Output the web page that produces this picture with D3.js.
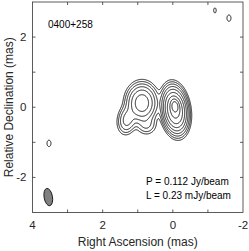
<!DOCTYPE html>
<html>
<head>
<meta charset="utf-8">
<script src="https://cdn.jsdelivr.net/npm/d3@7"></script>
<style>
  body { margin: 0; background: #fff; }
  text { font-family: "Liberation Sans", Arial, sans-serif; fill: #262626; }
</style>
</head>
<body>
<div id="chart"></div>
<script>
// Labels on the map
const sourceName = "0400+258";
const peakText = "P = 0.112 Jy/beam";
const lowText = "L = 0.23 mJy/beam";

// Contour levels (mJy/beam)
const levels = [0.23, 0.46, 0.92, 1.84, 3.68, 7.36, 14.72, 29.44, 58.88];

// Gaussian components: position (mas), peak (mJy/beam), sigmas (mas), PA (deg)
const compRA   = [-0.06, -0.06, 0.88,  1.30,  0.75, -1.20, -1.60,  3.53];
const compDec  = [ 0.03, -0.08, 0.12, -0.35, -0.50,  2.76,  2.54, -1.03];
const compPeak = [70,    42,    12,    2.6,   1.0,   0.245, 0.27,  0.27];
const compMaj  = [0.10,  0.27,  0.24,  0.20,  0.15,  0.20,  0.16,  0.16];
const compMin  = [0.06,  0.145, 0.19,  0.13,  0.15,  0.10,  0.10,  0.10];
const compPA   = [8,     8,     0,     -10,   0,     0,     0,     0];

// Restoring beam (FWHM, mas)
const beamPos = [3.55, -2.56];
const beamSize = [0.5, 0.24];
const beamPA = 10;

// Axes
const xDomain = [4, -2];
const yDomain = [-3, 3];
const xTicks = [4, 2, 0, -2];
const yTicks = [2, 0, -2];
const xMinor = [3, 2, 1, 0, -1];
const yMinor = [-2, -1, 0, 1, 2];

const width = 249;
const height = 251;
const margin = { left: 32.5, right: 6, top: 2, bottom: 38.5 };

const x = d3.scaleLinear().domain(xDomain).range([margin.left, width - margin.right]);
const y = d3.scaleLinear().domain(yDomain).range([height - margin.bottom, margin.top]);

const svg = d3.select("#chart")
  .append("svg")
    .attr("width", width)
    .attr("height", height);

// Brightness of the model at a sky position
const flux = (ra, dec) => {
  let s = 0;
  for (let k = 0; k < compRA.length; k++) {
    const pa = compPA[k] * Math.PI / 180;
    const dr = ra - compRA[k];
    const dd = dec - compDec[k];
    const u = dd * Math.cos(pa) + dr * Math.sin(pa);
    const v = dr * Math.cos(pa) - dd * Math.sin(pa);
    s += compPeak[k] * Math.exp(-0.5 * ((u / compMaj[k]) ** 2 + (v / compMin[k]) ** 2));
  }
  return s;
};

// Sample the field
const n = 600;
const stepX = (xDomain[0] - xDomain[1]) / n;
const stepY = (yDomain[1] - yDomain[0]) / n;
const values = new Float64Array(n * n);
for (let j = 0; j < n; j++) {
  for (let i = 0; i < n; i++) {
    values[j * n + i] = flux(xDomain[0] - (i + 0.5) * stepX, yDomain[1] - (j + 0.5) * stepY);
  }
}

const contours = d3.contours()
  .size([n, n])
  .thresholds(levels)(values);

const gridToScreen = d3.geoTransform({
  point(gx, gy) {
    this.stream.point(x(xDomain[0] - gx * stepX), y(yDomain[1] - gy * stepY));
  }
});
const path = d3.geoPath(gridToScreen);

svg.append("defs")
  .append("clipPath")
    .attr("id", "plot-clip")
  .append("rect")
    .attr("x", margin.left)
    .attr("y", margin.top)
    .attr("width", width - margin.left - margin.right)
    .attr("height", height - margin.top - margin.bottom);

svg.append("g")
    .attr("class", "contours")
    .attr("clip-path", "url(#plot-clip)")
  .selectAll("path")
  .data(contours)
  .join("path")
    .attr("d", path)
    .attr("fill", "none")
    .attr("stroke", "#000")
    .attr("stroke-width", 0.9);

// Beam
const pxPerMas = Math.abs(x(1) - x(0));
svg.append("ellipse")
    .attr("cx", x(beamPos[0]))
    .attr("cy", y(beamPos[1]))
    .attr("rx", beamSize[1] / 2 * pxPerMas)
    .attr("ry", beamSize[0] / 2 * pxPerMas)
    .attr("transform", `rotate(${-beamPA}, ${x(beamPos[0])}, ${y(beamPos[1])})`)
    .attr("fill", "#808080")
    .attr("stroke", "#000")
    .attr("stroke-width", 0.8);

// Frame and ticks
const frame = svg.append("g")
    .attr("stroke", "#333")
    .attr("stroke-width", 0.8);
frame.append("rect")
    .attr("x", margin.left)
    .attr("y", margin.top)
    .attr("width", width - margin.left - margin.right)
    .attr("height", height - margin.top - margin.bottom)
    .attr("fill", "none");

const tickLen = 3;
frame.selectAll(".xtick-b")
  .data(xMinor)
  .join("line")
    .attr("class", "xtick-b")
    .attr("x1", d => x(d)).attr("x2", d => x(d))
    .attr("y1", y(yDomain[0])).attr("y2", y(yDomain[0]) - tickLen);
frame.selectAll(".xtick-t")
  .data(xMinor)
  .join("line")
    .attr("class", "xtick-t")
    .attr("x1", d => x(d)).attr("x2", d => x(d))
    .attr("y1", y(yDomain[1])).attr("y2", y(yDomain[1]) + tickLen);
frame.selectAll(".ytick-l")
  .data(yMinor)
  .join("line")
    .attr("class", "ytick-l")
    .attr("y1", d => y(d)).attr("y2", d => y(d))
    .attr("x1", x(xDomain[0])).attr("x2", x(xDomain[0]) + tickLen);
frame.selectAll(".ytick-r")
  .data(yMinor)
  .join("line")
    .attr("class", "ytick-r")
    .attr("y1", d => y(d)).attr("y2", d => y(d))
    .attr("x1", x(xDomain[1])).attr("x2", x(xDomain[1]) - tickLen);

// Tick labels
svg.append("g")
    .attr("font-size", 11.5)
    .attr("text-anchor", "middle")
  .selectAll("text")
  .data(xTicks)
  .join("text")
    .attr("x", d => x(d))
    .attr("y", y(yDomain[0]) + 16)
    .text(d => d);

svg.append("g")
    .attr("font-size", 11.5)
    .attr("text-anchor", "end")
  .selectAll("text")
  .data(yTicks)
  .join("text")
    .attr("x", margin.left - 6)
    .attr("y", d => y(d) + 4)
    .text(d => d);

// Axis titles
svg.append("text")
    .attr("x", (x(xDomain[0]) + x(xDomain[1])) / 2)
    .attr("y", 246)
    .attr("text-anchor", "middle")
    .attr("font-size", 12)
    .text("Right Ascension (mas)");

svg.append("text")
    .attr("transform", `translate(13, ${(y(yDomain[0]) + y(yDomain[1])) / 2}) rotate(-90)`)
    .attr("text-anchor", "middle")
    .attr("font-size", 12)
    .text("Relative Declination (mas)");

// Annotations
svg.append("text")
    .attr("x", 48)
    .attr("y", 28)
    .attr("font-size", 10)
    .style("fill", "#000")
    .text(sourceName);

svg.append("text")
    .attr("x", 146)
    .attr("y", 185)
    .attr("font-size", 10)
    .style("fill", "#000")
    .text(peakText);

svg.append("text")
    .attr("x", 146)
    .attr("y", 199)
    .attr("font-size", 10)
    .style("fill", "#000")
    .text(lowText);
</script>
</body>
</html>
